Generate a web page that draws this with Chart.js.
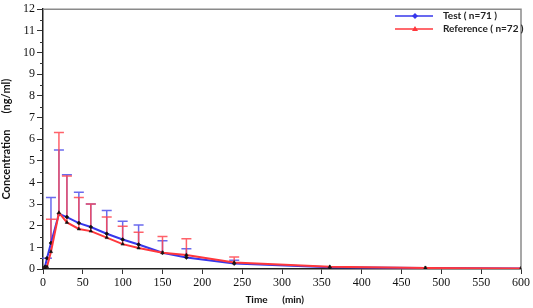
<!DOCTYPE html>
<html>
<head>
<meta charset="utf-8">
<script src="https://cdn.jsdelivr.net/npm/chart.js@4"></script>
<style>
  html, body { margin: 0; padding: 0; background: #fff; }
  #wrap { width: 533px; height: 308px; }
</style>
</head>
<body>
<div id="wrap"><canvas id="pkChart" width="533" height="308"></canvas></div>
<script>
// sampling times (min)
const times = [0, 2.5, 5, 10, 20, 30, 45, 60, 80, 100, 120, 150, 180, 240, 360, 480, 600];
// mean concentrations (ng/ml)
const testMean = [0, 0.1, 0.5, 1.2, 2.55, 2.4, 2.12, 1.94, 1.63, 1.36, 1.13, 0.75, 0.53, 0.25, 0.08, 0.05, 0.02];
const refMean = [0, 0.05, 0.1, 0.8, 2.6, 2.15, 1.85, 1.75, 1.45, 1.15, 0.97, 0.75, 0.65, 0.3, 0.1, 0.05, 0.02];
// top of error bars (mean + SD)
const testUpper = [null, null, 0.5, 3.3, 5.5, 4.35, 3.55, 3.0, 2.7, 2.2, 2.03, 1.3, 0.93, 0.4, null, null, null];
const refUpper = [null, null, null, 2.3, 6.3, 4.3, 3.3, 3.0, 2.4, 1.97, 1.7, 1.5, 1.4, 0.55, null, null, null];
const legendLabels = ["Test ( n=71 )", "Reference ( n=72 )"];
const yTicks = [0, 1, 2, 3, 4, 5, 6, 7, 8, 9, 10, 11, 12];

const blue = "rgb(55,55,235)";
const red = "rgb(255,55,60)";
const blueBar = "rgba(80,80,235,0.85)";
const redBar = "rgba(255,70,80,0.85)";

const toPts = (ys) => times.map((t, i) => ({ x: t, y: ys[i] }));

// error bars, frame, minor ticks, legend
const extras = {
  id: "extras",
  beforeDatasetsDraw(chart) {
    const { ctx, chartArea: a, scales: { x, y } } = chart;
    ctx.save();
    // frame top + right
    ctx.strokeStyle = "#8a8a8a";
    ctx.lineWidth = 1.5;
    ctx.beginPath();
    ctx.moveTo(a.left, a.top);
    ctx.lineTo(a.right, a.top);
    ctx.lineTo(a.right, a.bottom);
    ctx.stroke();
    // minor y ticks
    ctx.strokeStyle = "#333";
    ctx.lineWidth = 1;
    for (let v = 0.5; v < 12; v += 1) {
      const py = Math.round(y.getPixelForValue(v)) + 0.5;
      ctx.beginPath();
      ctx.moveTo(a.left - 3, py);
      ctx.lineTo(a.left, py);
      ctx.stroke();
    }
    // error bars
    const bars = [[testMean, testUpper, blueBar], [refMean, refUpper, redBar]];
    bars.forEach(([m, u, c]) => {
      ctx.strokeStyle = c;
      ctx.lineWidth = 1.5;
      times.forEach((t, i) => {
        if (u[i] == null) return;
        const px = x.getPixelForValue(t);
        const p0 = y.getPixelForValue(m[i]);
        const p1 = y.getPixelForValue(u[i]);
        ctx.beginPath();
        ctx.moveTo(px, p0);
        ctx.lineTo(px, p1);
        ctx.moveTo(px - 5, p1);
        ctx.lineTo(px + 5, p1);
        ctx.stroke();
      });
    });
    ctx.restore();
  },
  afterDraw(chart) {
    const { ctx } = chart;
    ctx.save();
    const items = [[blue, "diamond"], [red, "triangle"]];
    items.forEach(([c, shape], i) => {
      const ly = 16 + i * 13;
      ctx.strokeStyle = c;
      ctx.lineWidth = 1.5;
      ctx.beginPath();
      ctx.moveTo(395, ly);
      ctx.lineTo(433, ly);
      ctx.stroke();
      ctx.fillStyle = c;
      ctx.beginPath();
      if (shape === "diamond") {
        ctx.moveTo(415, ly - 3); ctx.lineTo(418, ly); ctx.lineTo(415, ly + 3); ctx.lineTo(412, ly);
      } else {
        ctx.moveTo(415, ly - 3); ctx.lineTo(418, ly + 2); ctx.lineTo(412, ly + 2);
      }
      ctx.closePath();
      ctx.fill();
      ctx.fillStyle = "#222";
      ctx.font = "bold 10px Lato";
      ctx.textBaseline = "middle";
      ctx.fillText(legendLabels[i], 443, ly);
    });
    ctx.restore();
  }
};

new Chart(document.getElementById("pkChart"), {
  type: "line",
  data: {
    datasets: [
      {
        label: legendLabels[0],
        data: toPts(testMean),
        borderColor: blue,
        borderWidth: 2,
        pointStyle: "rectRot",
        pointRadius: 2,
        pointBackgroundColor: "#111",
        pointBorderColor: "#111",
        pointBorderWidth: 0.5,
        tension: 0,
        order: 2
      },
      {
        label: legendLabels[1],
        data: toPts(refMean),
        borderColor: red,
        borderWidth: 2,
        pointStyle: "triangle",
        pointRadius: 2,
        pointBackgroundColor: "#111",
        pointBorderColor: "#111",
        pointBorderWidth: 0.5,
        tension: 0,
        order: 1
      }
    ]
  },
  options: {
    responsive: false,
    animation: false,
    layout: { padding: { top: 7, right: 12, left: 0, bottom: 0 } },
    plugins: { legend: { display: false }, tooltip: { enabled: false } },
    scales: {
      x: {
        type: "linear",
        min: 0,
        max: 600,
        ticks: { stepSize: 50, color: "#111", font: { family: "Liberation Serif", size: 12 }, padding: 2, maxRotation: 0 },
        grid: { drawOnChartArea: false, tickLength: 5, color: "#333" },
        border: { color: "#222", width: 1.5 },
        title: { display: true, text: "Time      (min)      ", color: "#111", font: { family: "Lato", size: 10, weight: "bold" }, padding: { top: 0, bottom: 2 } },
        afterFit(s) { s.height = 39; }
      },
      y: {
        min: 0,
        max: 12,
        afterBuildTicks(s) { s.ticks = yTicks.map((v) => ({ value: v })); },
        ticks: { color: "#111", font: { family: "Liberation Serif", size: 12 }, padding: 2 },
        grid: { drawOnChartArea: false, tickLength: 6, color: "#333" },
        border: { color: "#222", width: 1.5 },
        title: { display: true, text: "Concentration      (ng/ml)", color: "#111", font: { family: "Lato", size: 11, weight: "bold" }, padding: { top: 0, bottom: 3 } },
        afterFit(s) { s.width = 43; }
      }
    }
  },
  plugins: [extras]
});
</script>
</body>
</html>
